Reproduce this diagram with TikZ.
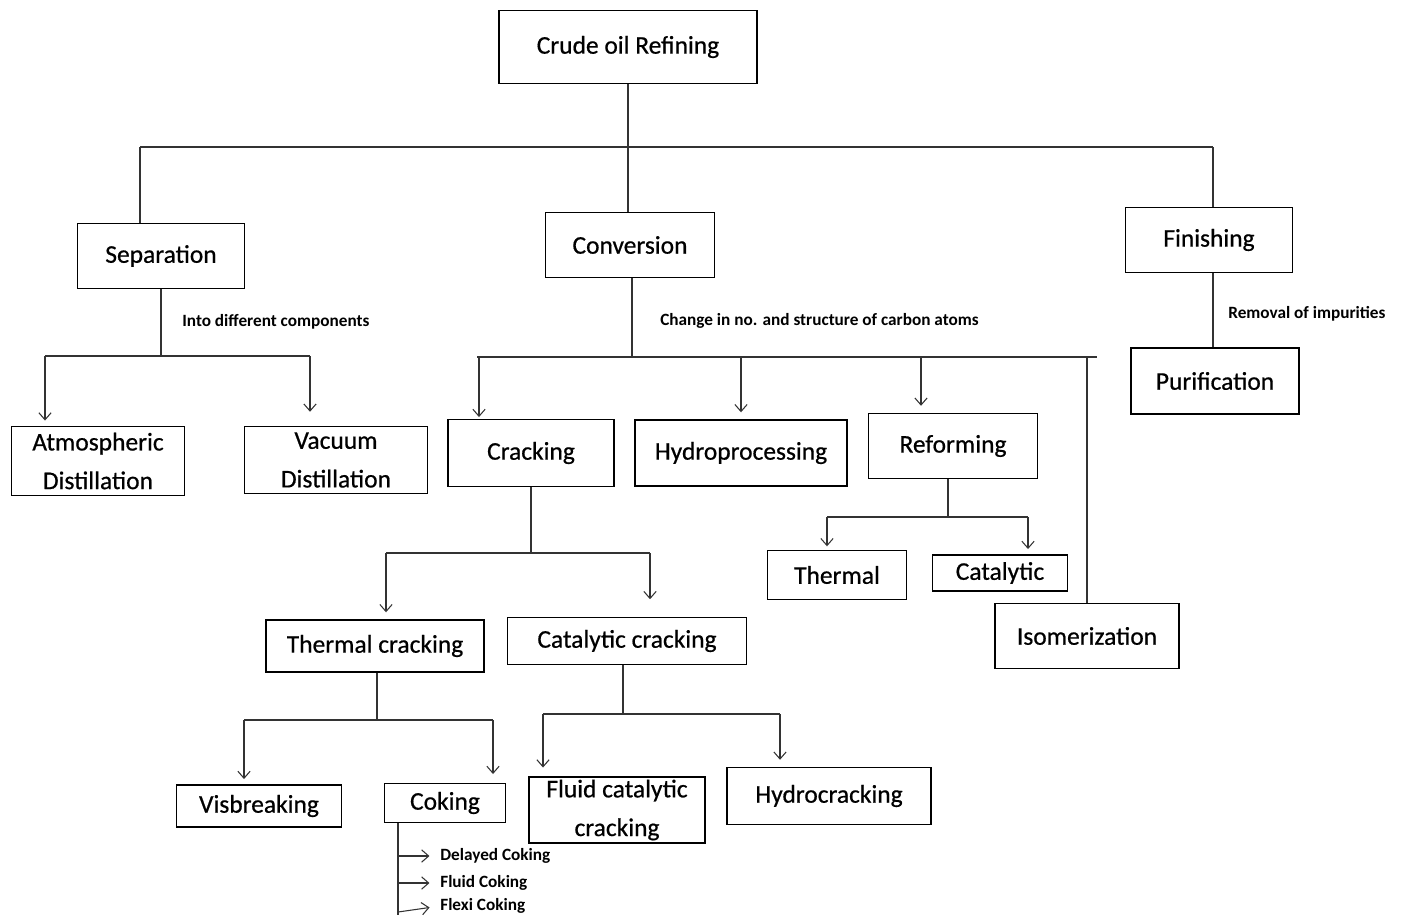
\documentclass[tikz,border=0pt]{standalone}
\usepackage{fontspec}
\setmainfont{Carlito}
\newfontfamily\heavyfont{Carlito}[FakeBold=0.6]
\usetikzlibrary{arrows.meta}

\begin{document}
\begin{tikzpicture}[x=0.02cm,y=-0.02cm,>={Straight Barb[length=4pt,width=7pt]},
    box/.style={draw,line width=0.8pt,align=center,inner sep=0pt,
      font=\heavyfont\fontsize{14.5}{22}\selectfont},
    note/.style={anchor=west,inner sep=0pt,font=\bfseries\fontsize{9.8}{11}\selectfont},
    link/.style={line width=0.6pt,draw=black!80}]
  \useasboundingbox (0,0) rectangle (1405,917);

  % boxes
  \node[box,minimum width=5.16cm,minimum height=1.46cm] (crude) at (628,47) {Crude oil Refining};
  \node[box,minimum width=3.34cm,minimum height=1.30cm] (sep) at (161,256) {Separation};
  \node[box,minimum width=3.38cm,minimum height=1.30cm] (conv) at (630,245) {Conversion};
  \node[box,minimum width=3.34cm,minimum height=1.30cm] (fin) at (1209,240) {Finishing};
  \node[box,minimum width=3.36cm,minimum height=1.32cm] (pur) at (1215,381) {Purification};
  \node[box,minimum width=3.46cm,minimum height=1.38cm] (atm) at (98,461) {Atmospheric\\Distillation};
  \node[box,minimum width=3.66cm,minimum height=1.34cm] (vac) at (336,460) {Vacuum\\Distillation};
  \node[box,minimum width=3.32cm,minimum height=1.34cm] (crack) at (531,453) {Cracking};
  \node[box,minimum width=4.24cm,minimum height=1.32cm] (hydro) at (741,453) {Hydroprocessing};
  \node[box,minimum width=3.38cm,minimum height=1.30cm] (reform) at (953,446) {Reforming};
  \node[box,minimum width=2.78cm,minimum height=0.98cm] (therm) at (837,575) {Thermal};
  \node[box,minimum width=2.70cm,minimum height=0.72cm] (cat) at (1000,573) {Catalytic};
  \node[box,minimum width=3.68cm,minimum height=1.30cm] (iso) at (1087,636) {Isomerization};
  \node[box,minimum width=4.36cm,minimum height=1.04cm] (thc) at (375,646) {Thermal cracking};
  \node[box,minimum width=4.78cm,minimum height=0.94cm] (cac) at (627,641) {Catalytic cracking};
  \node[box,minimum width=3.30cm,minimum height=0.84cm] (vis) at (259,806) {Visbreaking};
  \node[box,minimum width=2.42cm,minimum height=0.78cm] (cok) at (445,803) {Coking};
  \node[box,minimum width=3.52cm,minimum height=1.32cm] (fcc) at (617,810) {Fluid catalytic\\cracking};
  \node[box,minimum width=4.08cm,minimum height=1.14cm] (hyc) at (829,796) {Hydrocracking};

  % notes
  \node[note] (n1) at (182,322) {Into different components};
  \node[note] (n2) at (660,321) {Change in no. and structure of carbon atoms};
  \node[note] (n3) at (1228,314) {Removal of impurities};
  \node[note] (dc) at (440,856) {Delayed Coking};
  \node[note] (fc) at (440,883) {Fluid Coking};
  \node[note] (xc) at (440,906) {Flexi Coking};

  % junctions
  \coordinate (top) at (628,147);
  \coordinate (topL) at (140,147);
  \coordinate (topR) at (1213,147);
  \coordinate (sepL) at (45,356);
  \coordinate (sepR) at (310,356);
  \coordinate (convL) at (477,357);
  \coordinate (convR) at (1097,357);
  \coordinate (a1) at (479,357);
  \coordinate (a3) at (921,357);
  \coordinate (isoj) at (1087,357);
  \coordinate (crackL) at (386,553);
  \coordinate (crackR) at (650,553);
  \coordinate (refj) at (948,517);
  \coordinate (refL) at (827,517);
  \coordinate (refR) at (1028,517);
  \coordinate (thcj) at (377,720);
  \coordinate (thcL) at (244,720);
  \coordinate (thcR) at (493,720);
  \coordinate (cacj) at (623,714);
  \coordinate (cacL) at (543,714);
  \coordinate (cacR) at (780,714);
  \coordinate (cokB) at (398,915);

  % level 1
  \draw[link] (crude) -- (top);
  \draw[link] (topL) -- (topR);
  \draw[link] (topL) -- (topL |- sep.north);
  \draw[link] (top) -- (top |- conv.north);
  \draw[link] (topR) -- (topR |- fin.north);

  % separation
  \draw[link] (sep.south) -- (sep.south |- sepL);
  \draw[link] (sepL) -- (sepR);
  \draw[link,->,shorten >=3pt] (sepL) -- (sepL |- atm.north);
  \draw[link,->,shorten >=8pt] (sepR) -- (sepR |- vac.north);

  % conversion
  \draw[link] ([xshift=0.04cm]conv.south) -- ([xshift=0.04cm]conv.south |- convL);
  \draw[link] (convL) -- (convR);
  \draw[link,->,shorten >=1pt] (a1) -- (a1 |- crack.north);
  \draw[link,->,shorten >=4pt] (hydro.north |- convL) -- (hydro.north);
  \draw[link,->,shorten >=4pt] (a3) -- (a3 |- reform.north);
  \draw[link] (isoj) -- (iso.north);

  % finishing
  \draw[link] (topR |- fin.south) -- (topR |- pur.north);

  % cracking
  \draw[link] (crack.south) -- (crack.south |- crackL);
  \draw[link] (crackL) -- (crackR);
  \draw[link,->,shorten >=4pt] (crackL) -- (crackL |- thc.north);
  \draw[link,->,shorten >=10pt] (crackR) -- (crackR |- cac.north);

  % reforming
  \draw[link] (refj |- reform.south) -- (refj);
  \draw[link] (refL) -- (refR);
  \draw[link,->,shorten >=2pt] (refL) -- (refL |- therm.north);
  \draw[link,->,shorten >=3pt] (refR) -- (refR |- cat.north);

  % thermal cracking
  \draw[link] (thcj |- thc.south) -- (thcj);
  \draw[link] (thcL) -- (thcR);
  \draw[link,->,shorten >=3pt] (thcL) -- (thcL |- vis.north);
  \draw[link,->,shorten >=5pt] (thcR) -- (thcR |- cok.north);

  % catalytic cracking
  \draw[link] (cacj |- cac.south) -- (cacj);
  \draw[link] (cacL) -- (cacR);
  \draw[link,->,shorten >=5pt] (cacL) -- (cacL |- fcc.north);
  \draw[link,->,shorten >=4pt] (cacR) -- (cacR |- hyc.north);

  % coking
  \draw[link] (cokB |- cok.south) -- (cokB);
  \draw[link,->,shorten >=6pt] (cokB |- dc.west) -- (dc.west);
  \draw[link,->,shorten >=6pt] (cokB |- fc.west) -- (fc.west);
  \draw[link,->,shorten >=6pt] ([yshift=-0.12cm]cokB |- xc.west) -- (xc.west);
\end{tikzpicture}
\end{document}
